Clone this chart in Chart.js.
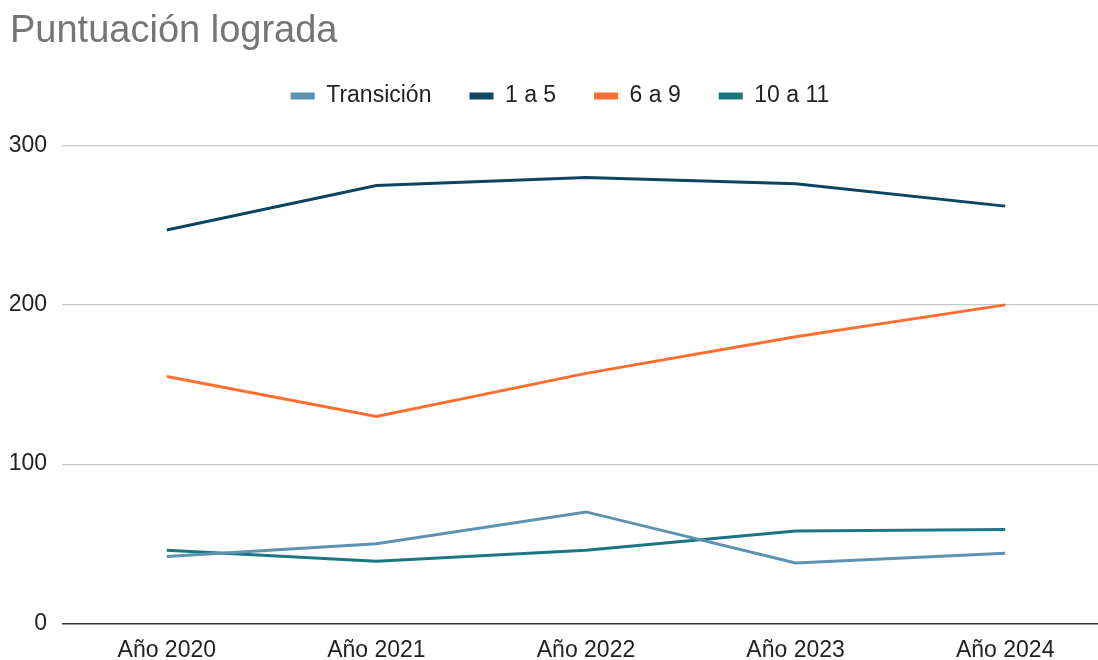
<!DOCTYPE html>
<html>
<head>
<meta charset="utf-8">
<script src="https://cdn.jsdelivr.net/npm/chart.js@4.4.1/dist/chart.umd.min.js"></script>
<style>
  html, body { margin: 0; padding: 0; background: #fff; overflow: hidden; }
  #wrap { width: 1110px; height: 660px; position: relative; }
</style>
</head>
<body>
<div id="wrap"><canvas id="chart"></canvas></div>
<script>
const years = ['Año 2020', 'Año 2021', 'Año 2022', 'Año 2023', 'Año 2024'];
const transicion = [42, 50, 70, 38, 44];
const grado1a5 = [247, 275, 280, 276, 262];
const grado6a9 = [155, 130, 157, 180, 200];
const grado10a11 = [46, 39, 46, 58, 59];
const yTicks = [0, 100, 200, 300];

const FONT = "'Liberation Sans', Arial, sans-serif";

function series(label, data, color) {
  return {
    label,
    data,
    borderColor: color,
    backgroundColor: color,
    borderWidth: 3,
    pointRadius: 0,
    tension: 0
  };
}

// extra room under the legend
const legendMargin = {
  id: 'legendMargin',
  beforeInit(chart) {
    const fit = chart.legend.fit;
    chart.legend.fit = function () {
      fit.call(this);
      this.height += 28;
    };
  }
};

const config = {
  type: 'line',
  data: {
    labels: years,
    datasets: [
      series('Transición', transicion, '#5b93b0'),
      series('1 a 5', grado1a5, '#0b4560'),
      series('6 a 9', grado6a9, '#ff6f31'),
      series('10 a 11', grado10a11, '#1a7680')
    ]
  },
  options: {
    responsive: true,
    maintainAspectRatio: false,
    animation: false,
    layout: { padding: { left: 10, right: 0, top: 9, bottom: -9 } },
    plugins: {
      title: {
        display: true,
        text: 'Puntuación lograda',
        align: 'start',
        color: '#757575',
        font: { family: FONT, size: 38, weight: 'normal' },
        padding: { top: 0, bottom: -8 }
      },
      legend: {
        position: 'top',
        labels: {
          color: '#222',
          font: { family: FONT, size: 23 },
          boxWidth: 24,
          boxHeight: 7,
          padding: 38,
          generateLabels(chart) {
            return Chart.defaults.plugins.legend.labels.generateLabels(chart)
              .map(item => ({ ...item, lineWidth: 0 }));
          }
        }
      },
      tooltip: { enabled: false }
    },
    scales: {
      x: {
        offset: true,
        grid: { display: false },
        border: { display: false },
        ticks: {
          color: '#222',
          font: { family: FONT, size: 23 },
          padding: 5,
          maxRotation: 0
        }
      },
      y: {
        min: 0,
        max: 300,
        afterBuildTicks(axis) {
          axis.ticks = yTicks.map(v => ({ value: v }));
        },
        afterFit(axis) {
          axis.width = 52;
        },
        border: { display: false },
        grid: {
          color: ctx => ctx.tick && ctx.tick.value === 0 ? '#333' : '#c8c8c8',
          lineWidth: ctx => ctx.tick && ctx.tick.value === 0 ? 1.5 : 1.2,
          drawTicks: false
        },
        ticks: {
          color: '#222',
          font: { family: FONT, size: 23 },
          padding: 15
        }
      }
    }
  },
  plugins: [legendMargin]
};

new Chart(document.getElementById('chart'), config);
</script>
</body>
</html>
